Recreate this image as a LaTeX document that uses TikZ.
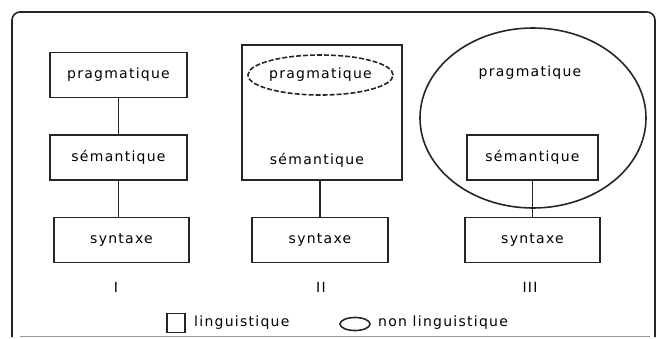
\documentclass[tikz,border=0pt]{standalone}
\usepackage{fontspec}
\setmainfont{DejaVu Sans}[LetterSpace=9]
\usetikzlibrary{shapes.geometric}
\begin{document}
\begin{tikzpicture}[x=1pt,y=-1pt,
  every node/.style={font=\fontsize{14}{16}\selectfont, text=black},
  lw/.style={line width=1.6pt, draw=black!85},
  lbox/.style={lw, rectangle, minimum height=45pt, inner sep=0pt},
  conn/.style={lw},
  lab/.style={inner sep=0pt}]
\useasboundingbox (0,0) rectangle (657,338);
% outer frame
\draw[lw, rounded corners=8pt] (12,337) -- (12,12) -- (655,12) -- (655,337);
\draw[line width=0.6pt, draw=black!40] (20,336.5) -- (650,336.5);
% Column I
\node[lbox, minimum width=137pt] (p1) at (118.5,75) {pragmatique};
\node[lbox, minimum width=137pt] (s1) at (118.5,157.5) {sémantique};
\node[lbox, minimum width=135pt] (y1) at (121.5,240) {syntaxe};
\draw[conn] (p1.south) -- (s1.north);
\draw[conn] (s1.south) -- (s1.south |- y1.north);
\node[lab] (n1) at (116,287) {I};
% Column II
\node[lbox, minimum width=160pt, minimum height=135pt] (b2) at (322,112.5) {};
\node[ellipse, dash pattern=on 5pt off 2pt, lw, minimum width=137pt, minimum height=40pt, inner sep=0pt] (p2) at (320.5,75) {pragmatique};
\node[lab] (s2) at (317,160) {sémantique};
\node[lbox, minimum width=136pt] (y2) at (320,240) {syntaxe};
\draw[conn] (b2.south -| y2.north) -- (y2.north);
\node[lab] (n2) at (321,287) {II};
% Column III
\node[ellipse, lw, minimum width=226pt, minimum height=180pt, inner sep=0pt] (e3) at (533,118) {};
\node[lab] (p3) at (530,73) {pragmatique};
\node[lbox, minimum width=131pt] (s3) at (532.5,157.5) {sémantique};
\node[lbox, minimum width=135pt] (y3) at (532.5,240) {syntaxe};
\draw[conn] (s3.south) -- (y3.north);
\node[lab] (n3) at (530,287) {III};
% Legend
\node[lw, rectangle, minimum width=18pt, minimum height=19pt, inner sep=0pt] (lsq) at (176,323) {};
\node[lab, anchor=west] (lt1) at (194,323) {linguistique};
\node[ellipse, lw, minimum width=30pt, minimum height=13pt, inner sep=0pt] (lel) at (355,324) {};
\node[lab, anchor=west] (lt2) at (378,323) {non linguistique};
\end{tikzpicture}
\end{document}
